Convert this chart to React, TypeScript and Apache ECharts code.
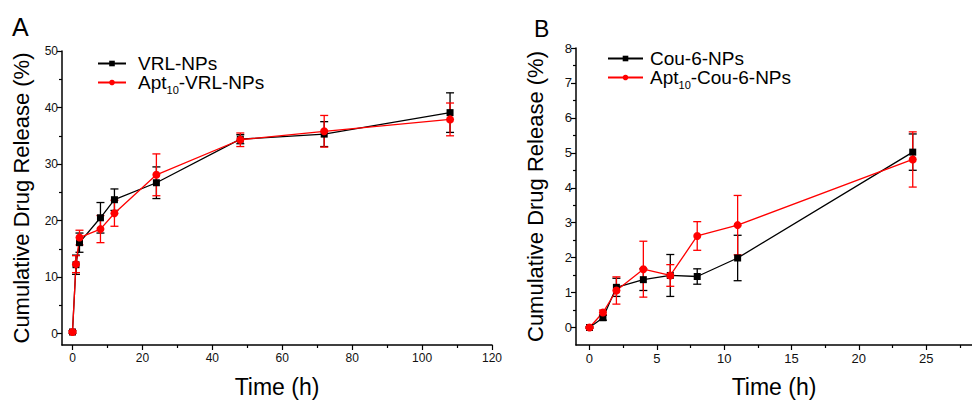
import React, { useEffect, useRef } from 'react';
import * as echarts from 'echarts';

const FONT = '"Liberation Sans", Arial, Helvetica, sans-serif';

// Panel A
const timeA = [0, 1, 2, 8, 12, 24, 48, 72, 108];
const vrlNPs = [0.3, 12.2, 16.1, 20.5, 23.7, 26.7, 34.4, 35.3, 39.1];
const vrlNPsErr = [0.2, 1.7, 1.7, 2.7, 1.9, 2.8, 0.8, 2.2, 3.5];
const aptVrlNPs = [0.3, 12.3, 17.0, 18.5, 21.3, 28.1, 34.3, 35.8, 37.9];
const aptVrlNPsErr = [0.2, 1.5, 1.3, 2.4, 2.3, 3.7, 1.2, 2.8, 2.9];

// Panel B
const timeB = [0, 1, 2, 4, 6, 8, 11, 24];
const couNPs = [0, 0.28, 1.15, 1.37, 1.49, 1.46, 1.99, 5.02];
const couNPsErr = [0.02, 0.07, 0.26, 0.31, 0.6, 0.22, 0.65, 0.52];
const aptCouNPs = [0, 0.43, 1.06, 1.67, 1.49, 2.62, 2.93, 4.81];
const aptCouNPsErr = [0.02, 0.07, 0.39, 0.8, 0.31, 0.41, 0.85, 0.79];

// Tick values
const xMajorA = [0, 20, 40, 60, 80, 100, 120];
const xMinorA = [10, 30, 50, 70, 90, 110];
const yMajorA = [0, 10, 20, 30, 40, 50];
const yMinorA = [5, 15, 25, 35, 45];
const xMajorB = [0, 5, 10, 15, 20, 25];
const xMinorB = [2.5, 7.5, 12.5, 17.5, 22.5, 27.5];
const yMajorB = [0, 1, 2, 3, 4, 5, 6, 7, 8];
const yMinorB = [0.5, 1.5, 2.5, 3.5, 4.5, 5.5, 6.5, 7.5];

const NAMES = {
  vrl: 'VRL-NPs',
  aptVrl: 'Apt10-VRL-NPs',
  cou: 'Cou-6-NPs',
  aptCou: 'Apt10-Cou-6-NPs',
};

const pairs = (xs: number[], ys: number[]) => xs.map((x, i) => [x, ys[i]]);
const errData = (xs: number[], ys: number[], es: number[]) =>
  xs.map((x, i) => [x, ys[i] - es[i], ys[i] + es[i]]);

function errSeries(xs: number[], ys: number[], es: number[], color: string, axisIdx: number) {
  return {
    type: 'custom',
    name: '_err_' + color + axisIdx,
    xAxisIndex: axisIdx,
    yAxisIndex: axisIdx,
    encode: { x: 0, y: [1, 2] },
    data: errData(xs, ys, es),
    silent: true,
    renderItem: (params: any, api: any) => {
      const x = api.value(0);
      const lo = api.value(1);
      const hi = api.value(2);
      const t = api.coord([x, hi]);
      const b = api.coord([x, lo]);
      const cw = 4;
      const style = { stroke: color, lineWidth: 1.3 };
      return {
        type: 'group',
        children: [
          { type: 'line', shape: { x1: t[0], y1: t[1], x2: b[0], y2: b[1] }, style },
          { type: 'line', shape: { x1: t[0] - cw, y1: t[1], x2: t[0] + cw, y2: t[1] }, style },
          { type: 'line', shape: { x1: b[0] - cw, y1: b[1], x2: b[0] + cw, y2: b[1] }, style },
        ],
      };
    },
  };
}

function lineSeries(name: string, xs: number[], ys: number[], color: string, symbol: string, size: number, axisIdx: number) {
  return {
    type: 'line',
    name,
    xAxisIndex: axisIdx,
    yAxisIndex: axisIdx,
    data: pairs(xs, ys),
    symbol,
    symbolSize: size,
    showAllSymbol: true,
    itemStyle: { color },
    lineStyle: { color, width: 1.3 },
  };
}

const tickLine = { color: '#000', width: 1.2 };

function mainX(gridIndex: number, min: number, max: number, majors: number[], fs: number) {
  return {
    type: 'value', gridIndex, min, max, position: 'bottom',
    splitLine: { show: false },
    axisLine: { show: true, onZero: false, lineStyle: { color: '#000', width: 1.5 } },
    axisTick: { show: true, inside: false, length: 5, customValues: majors, lineStyle: tickLine },
    axisLabel: { customValues: majors, fontSize: fs, color: '#111', margin: 7, fontFamily: FONT },
    name: 'Time (h)', nameLocation: 'middle', nameGap: 30,
    nameTextStyle: { fontSize: 23, color: '#000', fontFamily: FONT },
  };
}
function minorX(gridIndex: number, min: number, max: number, minors: number[]) {
  return {
    type: 'value', gridIndex, min, max, position: 'bottom',
    splitLine: { show: false },
    axisLine: { show: false, onZero: false },
    axisTick: { show: true, inside: false, length: 3, customValues: minors, lineStyle: tickLine },
    axisLabel: { show: false },
  };
}
function mainY(gridIndex: number, min: number, max: number, majors: number[], fs: number) {
  return {
    type: 'value', gridIndex, min, max, position: 'left',
    splitLine: { show: false },
    axisLine: { show: true, onZero: false, lineStyle: { color: '#000', width: 1.5 } },
    axisTick: { show: true, inside: false, length: 5, customValues: majors, lineStyle: tickLine },
    axisLabel: { customValues: majors, fontSize: fs, color: '#111', margin: 4, fontFamily: FONT },
    name: 'Cumulative Drug Release (%)', nameLocation: 'middle', nameGap: 30,
    nameTextStyle: { fontSize: 22, color: '#000', fontFamily: FONT },
  };
}
function minorY(gridIndex: number, min: number, max: number, minors: number[]) {
  return {
    type: 'value', gridIndex, min, max, position: 'left',
    splitLine: { show: false },
    axisLine: { show: false, onZero: false },
    axisTick: { show: true, inside: false, length: 3, customValues: minors, lineStyle: tickLine },
    axisLabel: { show: false },
  };
}

const legendFmt = (n: string) => n.replace('Apt10', 'Apt{sub|10}');
function legendItem(name: string, left: number, top: number, itemWidth: number, pad: number) {
  return {
    data: [name],
    left, top,
    padding: 0,
    itemWidth,
    itemHeight: 7,
    lineStyle: { width: 2 },
    formatter: legendFmt,
    selectedMode: false,
    textStyle: {
      fontSize: 19, lineHeight: 17, color: '#000', fontFamily: FONT, padding: [0, 0, 0, pad],
      rich: {
        sub: { fontSize: 11, fontFamily: FONT, color: '#000', verticalAlign: 'bottom', lineHeight: 11, padding: [0, 0, -4, 0] },
      },
    },
  };
}

export default function App() {
  const ref = useRef<HTMLDivElement>(null);
  useEffect(() => {
    document.body.style.margin = '0';
    const chart = echarts.init(ref.current!, null, { renderer: 'svg' });
    const option: any = {
      animation: false,
      backgroundColor: '#fff',
      textStyle: { fontFamily: FONT },
      grid: [
        { left: 62, top: 51, width: 430, height: 296 },
        { left: 576, top: 48, width: 414, height: 301 },
      ],
      xAxis: [
        mainX(0, -3, 120, xMajorA, 12),
        minorX(0, -3, 120, xMinorA),
        mainX(1, -1, 28.4, xMajorB, 13),
        minorX(1, -1, 28.4, xMinorB),
      ],
      yAxis: [
        mainY(0, -2, 50, yMajorA, 12),
        minorY(0, -2, 50, yMinorA),
        mainY(1, -0.5, 8, yMajorB, 13),
        minorY(1, -0.5, 8, yMinorB),
      ],
      legend: [
        legendItem(NAMES.vrl, 97, 54, 28, 7),
        legendItem(NAMES.aptVrl, 97, 73, 28, 7),
        legendItem(NAMES.cou, 607, 49, 35, 2),
        legendItem(NAMES.aptCou, 607, 68, 35, 2),
      ],
      graphic: [
        { type: 'text', left: 12, top: 14, style: { text: 'A', fontSize: 25, fill: '#000', fontFamily: FONT } },
        { type: 'text', left: 534, top: 17, style: { text: 'B', fontSize: 23, fill: '#000', fontFamily: FONT } },
      ],
      series: [
        errSeries(timeA, vrlNPs, vrlNPsErr, '#000000', 0),
        lineSeries(NAMES.vrl, timeA, vrlNPs, '#000000', 'rect', 7, 0),
        errSeries(timeA, aptVrlNPs, aptVrlNPsErr, '#ff0000', 0),
        lineSeries(NAMES.aptVrl, timeA, aptVrlNPs, '#ff0000', 'circle', 8, 0),
        errSeries(timeB, couNPs, couNPsErr, '#000000', 2),
        lineSeries(NAMES.cou, timeB, couNPs, '#000000', 'rect', 7, 2),
        errSeries(timeB, aptCouNPs, aptCouNPsErr, '#ff0000', 2),
        lineSeries(NAMES.aptCou, timeB, aptCouNPs, '#ff0000', 'circle', 8, 2),
      ],
    };
    chart.setOption(option);
    return () => chart.dispose();
  }, []);
  return <div ref={ref} style={{ width: 972, height: 403 }} />;
}
